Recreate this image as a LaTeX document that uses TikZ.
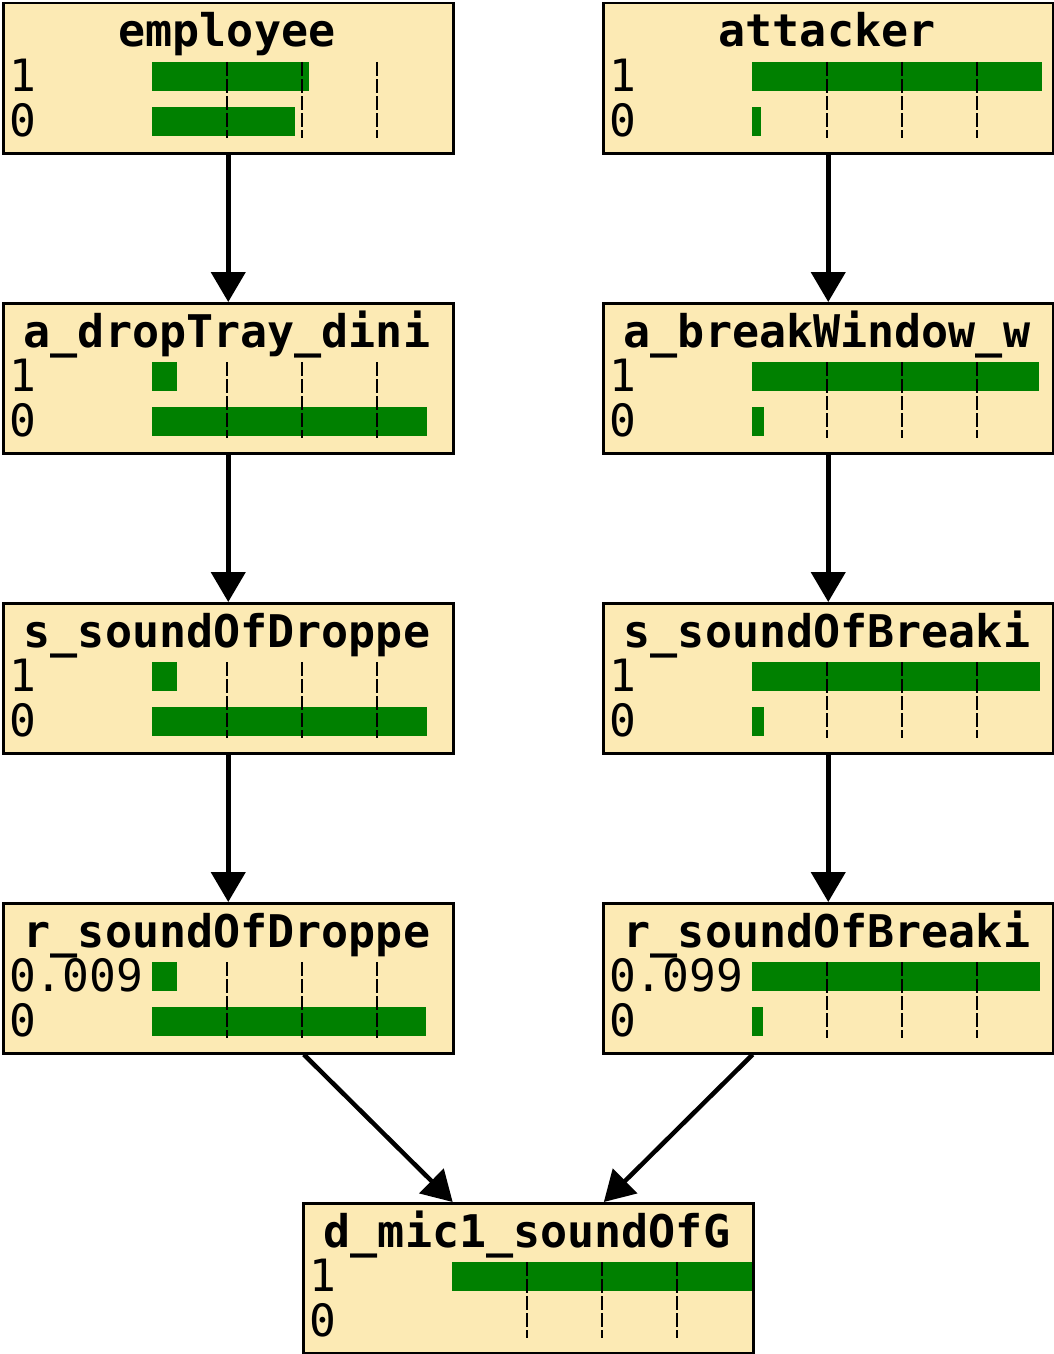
\documentclass[tikz,border=0pt]{standalone}
\usepackage{fontspec}
\setmonofont{DejaVu Sans Mono}
\usetikzlibrary{arrows.meta,calc}
\definecolor{boxfill}{HTML}{FCEAB4}
\definecolor{bargreen}{HTML}{008000}
\tikzset{
  bnbox/.style={draw=black,line width=2.5pt,fill=boxfill,minimum width=450pt,minimum height=150pt,inner sep=0pt,anchor=north west},
  bntitle/.style={font=\ttfamily\bfseries\fontsize{45}{50}\selectfont,anchor=base,inner sep=0pt},
  bnlabel/.style={font=\ttfamily\fontsize{44.5}{50}\selectfont,anchor=base west,inner sep=0pt},
  bnbar/.style={fill=bargreen},
  bntick/.style={draw=black,line width=2.5pt,dash pattern=on 14pt off 3pt},
  bnarrow/.style={draw=black,line width=4.5pt,-{Triangle[length=30pt,width=34pt]}}
}
% #1 name, #2 x, #3 y, #4 title, #5 label of state 1, #6 width of bar 1, #7 width of bar 0
\newcommand\bnnode[7]{%
  \node[bnbox] (#1) at (#2,#3) {};
  \begin{scope}[shift={(#2,#3)}]
    \node[bntitle] (#1-t) at (225,45) {#4};
    \node[bnlabel] (#1-a) at (7,89) {#5};
    \node[bnlabel] (#1-b) at (7,134) {0};
    \ifnum#6>0 \fill[bnbar] (150,60) rectangle ({150+#6},89);\fi
    \ifnum#7>0 \fill[bnbar] (150,105) rectangle ({150+#7},134);\fi
    \draw[bntick] (225,60) -- (225,136);
    \draw[bntick] (300,60) -- (300,136);
    \draw[bntick] (375,60) -- (375,136);
  \end{scope}
}
\begin{document}
\begin{tikzpicture}[x=1pt,y=-1pt]
\useasboundingbox (0,0) rectangle (1054,1354);
\bnnode{emp}{2}{2}{employee}{1}{157}{143}
\bnnode{att}{602}{2}{attacker}{1}{290}{9}
\bnnode{adt}{2}{302}{a\_dropTray\_dini}{1}{25}{275}
\bnnode{abw}{602}{302}{a\_breakWindow\_w}{1}{287}{12}
\bnnode{sdr}{2}{602}{s\_soundOfDroppe}{1}{25}{275}
\bnnode{sbr}{602}{602}{s\_soundOfBreaki}{1}{288}{12}
\bnnode{rdr}{2}{902}{r\_soundOfDroppe}{0.009}{25}{274}
\bnnode{rbr}{602}{902}{r\_soundOfBreaki}{0.099}{288}{11}
\bnnode{mic}{302}{1202}{d\_mic1\_soundOfG}{1}{300}{0}
\draw[bnarrow] (emp.south) -- (adt.north);
\draw[bnarrow] (adt.south) -- (sdr.north);
\draw[bnarrow] (sdr.south) -- (rdr.north);
\draw[bnarrow] (att.south) -- (abw.north);
\draw[bnarrow] (abw.south) -- (sbr.north);
\draw[bnarrow] (sbr.south) -- (rbr.north);
\draw[bnarrow] ($(rdr.south west)!0.667!(rdr.south east)$) -- ($(mic.north west)!0.333!(mic.north east)$);
\draw[bnarrow] ($(rbr.south west)!0.333!(rbr.south east)$) -- ($(mic.north west)!0.667!(mic.north east)$);
\end{tikzpicture}
\end{document}
